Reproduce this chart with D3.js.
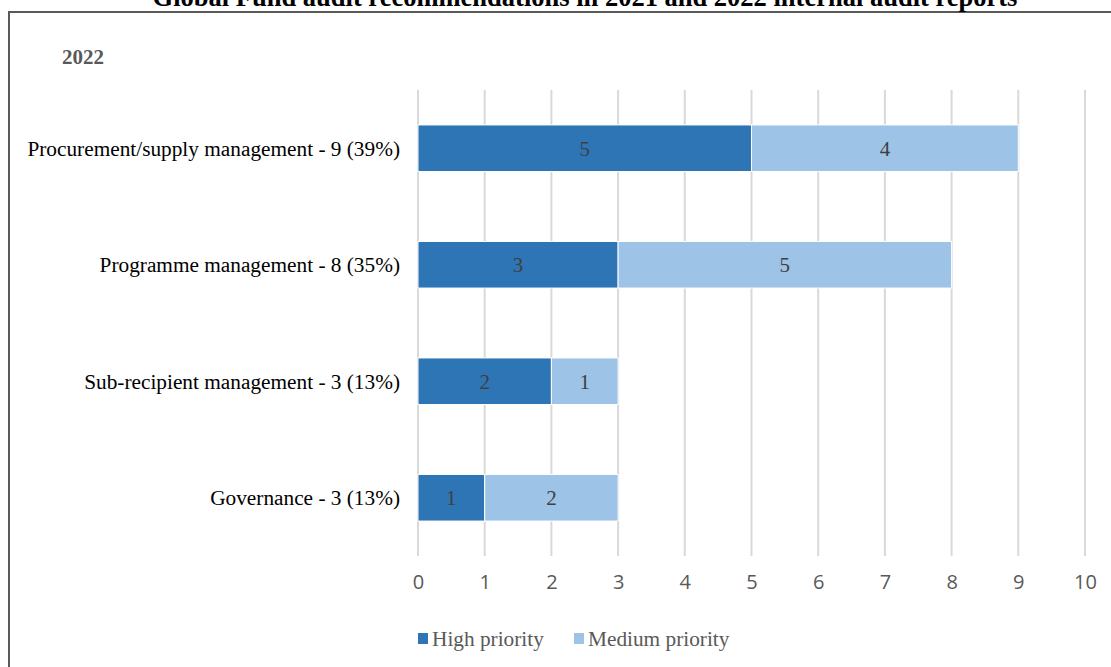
<!DOCTYPE html>
<html><head><meta charset="utf-8">
<script src="https://cdn.jsdelivr.net/npm/d3@7"></script>
<style>body{margin:0;background:#fff;}svg{display:block;}</style>
</head><body>
<svg id="c" width="1111" height="667"></svg>
<script>
const categories = ["Procurement/supply management - 9 (39%)","Programme management - 8 (35%)","Sub-recipient management - 3 (13%)","Governance - 3 (13%)"];
const highPriority = [5,3,2,1];
const mediumPriority = [4,5,1,2];
const seriesNames = ["High priority","Medium priority"];
const xTicks = [0,1,2,3,4,5,6,7,8,9,10];
const colors = ["#2e75b6","#9dc3e6"];

const svg = d3.select("#c");
const serif = "'Liberation Serif','Times New Roman',serif";
const sans = "'Open Sans','Noto Sans',sans-serif";

// frame
svg.append("path").attr("d","M9,667 L9,12 L1111,12").attr("fill","none").attr("stroke","#595959").attr("stroke-width",2);

svg.append("text").attr("x",585).attr("y",6).attr("text-anchor","middle")
  .attr("font-family",serif).attr("font-weight","bold").attr("font-size",26.5).attr("fill","#000")
  .text("Global Fund audit recommendations in 2021 and 2022 internal audit reports");

svg.append("text").attr("x",62).attr("y",64).attr("font-family",serif).attr("font-weight","bold")
  .attr("font-size",21).attr("fill","#595959").text("2022");

const x = d3.scaleLinear().domain([0,10]).range([418,1085]);
const y = d3.scaleBand().domain(categories).range([90,556]).paddingInner(0.6).paddingOuter(0.3);

// gridlines
svg.append("g").selectAll("line").data(xTicks).join("line")
  .attr("x1",d=>x(d)).attr("x2",d=>x(d)).attr("y1",90).attr("y2",556)
  .attr("stroke","#d9d9d9").attr("stroke-width",2);

const stacked = categories.map((c,i)=>({cat:c, vals:[highPriority[i],mediumPriority[i]]}));
const g = svg.append("g");
stacked.forEach(d=>{
  let acc=0;
  d.vals.forEach((v,k)=>{
    const x0=acc, x1=acc+v; acc=x1;
    g.append("rect").attr("x",x(x0)).attr("width",x(x1)-x(x0))
      .attr("y",y(d.cat)).attr("height",y.bandwidth())
      .attr("fill",colors[k]).attr("stroke","#fff").attr("stroke-width",1);
    g.append("text").attr("x",(x(x0)+x(x1))/2).attr("y",y(d.cat)+y.bandwidth()/2)
      .attr("dy","0.35em").attr("text-anchor","middle").attr("font-family",serif)
      .attr("font-size",21).attr("fill","#404040").text(v);
  });
});

// category labels
svg.append("g").selectAll("text").data(categories).join("text")
  .attr("x",400).attr("y",d=>y(d)+y.bandwidth()/2).attr("dy","0.35em")
  .attr("text-anchor","end").attr("font-family",serif).attr("font-size",21.3).attr("fill","#000")
  .text(d=>d);

// x axis labels
const xa = svg.append("g").attr("transform","translate(0,571)")
  .call(d3.axisBottom(x).tickValues(xTicks).tickSize(0).tickPadding(4));
xa.select(".domain").remove();
xa.selectAll("text").attr("font-family",sans).attr("font-size",20).attr("fill","#595959");

// legend
const leg = svg.append("g");
const lx = [418,574];
seriesNames.forEach((s,i)=>{
  leg.append("rect").attr("x",lx[i]).attr("y",633).attr("width",10).attr("height",11).attr("fill",colors[i]);
  leg.append("text").attr("x",lx[i]+14).attr("y",639).attr("dy","0.35em").attr("font-family",serif)
    .attr("font-size",21.3).attr("fill","#595959").text(s);
});
</script>
</body></html>
